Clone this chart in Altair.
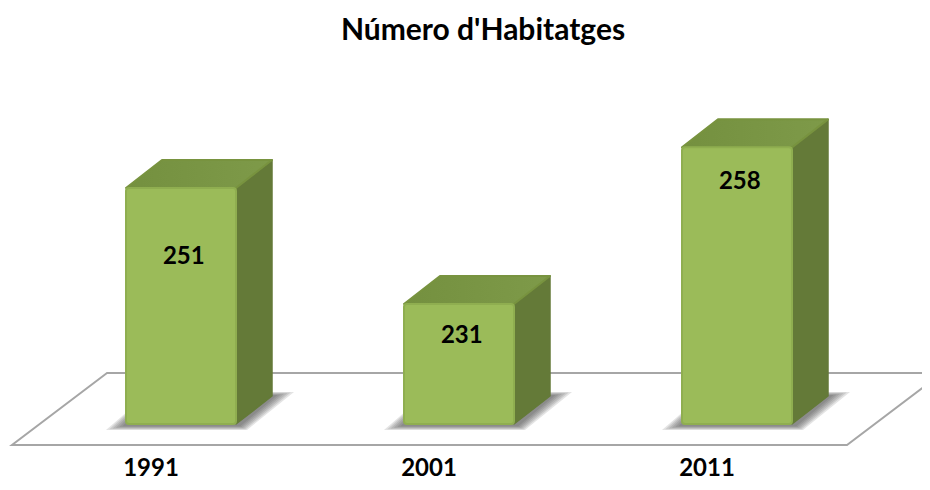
import altair as alt
import pandas as pd

title = "Número d'Habitatges"
years = ["1991", "2001", "2011"]
values = [251, 231, 258]
label_levels = [239.05, 225.4, 251.95]

W, TOP, BOTTOM = 914, 60, 482
H = BOTTOM - TOP
PX_PER_UNIT = 5.8
BASE_PX = 424
BASE_VALUE = 210.3
STEP_PX = 278
C0_PX = 181


def vy(px):
    return BASE_VALUE + (BASE_PX - px) / PX_PER_UNIT


def vx(px):
    return (px - C0_PX) / STEP_PX


xs = alt.Scale(domain=[vx(8), vx(8 + W)], nice=False, zero=False)
ys = alt.Scale(domain=[vy(BOTTOM), vy(TOP)], nice=False, zero=False)
X = lambda f="x": alt.X(f + ":Q", scale=xs, axis=None, stack=None, title=None)
Y = lambda f="y": alt.Y(f + ":Q", scale=ys, axis=None, stack=None, title=None)

half = 55 / STEP_PX
dx = 36 / STEP_PX
dv = 28 / PX_PER_UNIT
base = BASE_VALUE

idx = list(range(len(values)))
front = pd.DataFrame({"l": [i - half for i in idx], "r": [i + half for i in idx],
                      "v": values, "b": [base] * 3, "year": years})

top_rows, side_rows, shadow_rows = [], [], []
for i, v, yr in zip(idx, values, years):
    l, r = i - half, i + half
    top_rows += [{"year": yr, "y": v, "x": l, "x2": r},
                 {"year": yr, "y": v + dv, "x": l + dx, "x2": r + dx}]
    side_rows += [{"year": yr, "x": r, "y": base, "y2": v},
                  {"year": yr, "x": r + dx, "y": base + dv, "y2": v + dv}]
    c = C0_PX + i * STEP_PX
    for t in [0, 0.15, 0.3, 0.45, 0.6, 0.75]:
        key = f"{yr}-{t}"
        shadow_rows += [
            {"key": key, "y": vy(430 - 5 * t), "x": vx(c - 75 + 22 * t), "x2": vx(c + 66 - 9 * t)},
            {"key": key, "y": vy(392 + 4 * t), "x": vx(c - 31), "x2": vx(c + 113 - 22 * t)},
        ]

floor = pd.DataFrame([
    {"k": "f", "y": vy(445), "x": vx(12), "x2": vx(847)},
    {"k": "f", "y": vy(373), "x": vx(107), "x2": vx(942)},
])

floor_layer = alt.Chart(floor).mark_area(
    orient="horizontal", fill="white", stroke="#A6A6A6", strokeWidth=2, clip=True
).encode(x=X(), x2="x2:Q", y=Y(), detail="k:N")

shadow_layer = alt.Chart(pd.DataFrame(shadow_rows)).mark_area(
    orient="horizontal", fill="#404040", opacity=0.14, clip=True
).encode(x=X(), x2="x2:Q", y=Y(), detail="key:N")

side_layer = alt.Chart(pd.DataFrame(side_rows)).mark_area(
    fill="#647A38", stroke="#647A38", strokeWidth=1.5, strokeJoin="round"
).encode(x=X(), y=Y(), y2="y2:Q", detail="year:N")

top_layer = alt.Chart(pd.DataFrame(top_rows)).mark_area(
    orient="horizontal",
    fill=alt.Gradient(gradient="linear", x1=0, x2=1, y1=0, y2=0,
                      stops=[alt.GradientStop(offset=0, color="#74903F"),
                             alt.GradientStop(offset=1, color="#7E9A49")]),
    stroke="#78933F", strokeWidth=2, strokeJoin="round",
).encode(x=X(), x2="x2:Q", y=Y(), detail="year:N")

front_layer = alt.Chart(front).mark_rect(
    fill="#9BBB59", stroke="#8FAE50", strokeWidth=2, cornerRadius=3
).encode(x=X("l"), x2="r:Q", y=Y("v"), y2="b:Q")

text_style = dict(font="Lato", fontWeight="bold", fontSize=24, color="black",
                  align="center", baseline="middle")

labels = pd.DataFrame({"x": [i + 0.01 for i in idx], "y": label_levels, "t": [str(v) for v in values]})
label_layer = alt.Chart(labels).mark_text(**text_style).encode(x=X(), y=Y(), text="t:N")

cats = pd.DataFrame({"x": [i - 0.108 for i in idx], "y": [vy(469)] * 3, "t": years})
cat_layer = alt.Chart(cats).mark_text(**text_style).encode(x=X(), y=Y(), text="t:N")

chart = alt.layer(
    floor_layer, shadow_layer, side_layer, top_layer, front_layer, label_layer, cat_layer
).properties(
    width=W, height=H, background="white",
    padding={"left": 0, "right": 0, "top": TOP - 8, "bottom": 0},
    autosize=alt.AutoSizeParams(type="none"),
    title=alt.TitleParams(title, font="Lato", fontWeight="bold", fontSize=30, color="black",
                          anchor="middle", dx=18, offset=14),
).configure_view(stroke=None)

chart.save("out.html", embed_options={"renderer": "svg", "actions": False})
